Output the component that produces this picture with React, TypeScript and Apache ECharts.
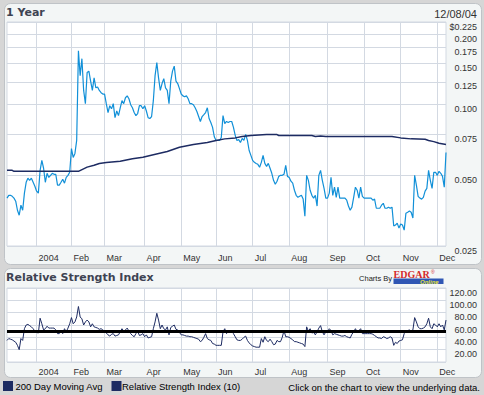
import React, { useEffect, useRef } from "react";
import * as echarts from "echarts";

// Trading calendar 12/08/03 - 12/08/04
const START_DATE = [2003, 11, 8];
const END_DATE = [2004, 11, 8];
const HOLIDAYS = ["2003-12-25", "2004-01-01", "2004-01-19", "2004-02-16", "2004-04-09", "2004-05-31", "2004-06-11", "2004-07-05", "2004-09-06", "2004-11-25"];
const MONTH_LABELS = ["2004", "Feb", "Mar", "Apr", "May", "Jun", "Jul", "Aug", "Sep", "Oct", "Nov", "Dec"];

const PRICE_TICKS = [0.025, 0.05, 0.075, 0.1, 0.125, 0.15, 0.175, 0.2, 0.225];
const RSI_MIN = 0;
const RSI_MAX = 120;
const RSI_STEP = 20;
const RSI_LEVEL = 50;

// daily closing price
const PRICE = [
  0.0400, 0.0411, 0.0411, 0.0407, 0.0400, 0.0388, 0.0355, 0.0338, 0.0373, 0.0355,
  0.0420, 0.0467, 0.0486, 0.0476, 0.0486, 0.0467, 0.0449, 0.0428, 0.0420, 0.0525,
  0.0579, 0.0536, 0.0467, 0.0510, 0.0490, 0.0500, 0.0510, 0.0505, 0.0505, 0.0454,
  0.0454, 0.0467, 0.0481, 0.0463, 0.0490, 0.0500, 0.0515, 0.0650, 0.0596, 0.0620,
  0.0704, 0.1695, 0.133, 0.157, 0.115, 0.101, 0.137, 0.139, 0.126, 0.115,
  0.130, 0.118, 0.119, 0.115, 0.1125, 0.111, 0.111, 0.101, 0.0926, 0.099,
  0.096, 0.101, 0.088, 0.094, 0.0898, 0.097, 0.104, 0.101, 0.107, 0.109,
  0.106, 0.100, 0.097, 0.0926, 0.0898, 0.0917, 0.099, 0.099, 0.096, 0.099,
  0.094, 0.088, 0.0873, 0.089, 0.104, 0.133, 0.151, 0.130, 0.115, 0.123,
  0.129, 0.118, 0.115, 0.101, 0.126, 0.139, 0.146, 0.126, 0.123, 0.117,
  0.111, 0.109, 0.108, 0.109, 0.106, 0.101, 0.101, 0.100, 0.097, 0.0935,
  0.089, 0.0848, 0.089, 0.0907, 0.0926, 0.097, 0.0873, 0.084, 0.080, 0.073,
  0.0704, 0.0704, 0.0704, 0.0725, 0.0898, 0.083, 0.0848, 0.084, 0.0848, 0.0848,
  0.080, 0.074, 0.0704, 0.071, 0.069, 0.0718, 0.0704, 0.0747, 0.0704, 0.0638,
  0.0608, 0.0579, 0.0568, 0.0562, 0.0557, 0.0541, 0.0568, 0.0608, 0.0562, 0.0546,
  0.0562, 0.0536, 0.0510, 0.0476, 0.0458, 0.0472, 0.0495, 0.0500, 0.0500, 0.0505,
  0.0551, 0.0495, 0.0490, 0.0472, 0.0463, 0.0432, 0.0411, 0.0403, 0.0407, 0.0411,
  0.0396, 0.0335, 0.0500, 0.0476, 0.0432, 0.0411, 0.0400, 0.0411, 0.0370, 0.0500,
  0.0525, 0.0476, 0.0440, 0.0400, 0.0400, 0.0420, 0.0490, 0.0411, 0.0445, 0.0403,
  0.0445, 0.0400, 0.0400, 0.0400, 0.0400, 0.0392, 0.0370, 0.0355, 0.0366, 0.0403,
  0.0445, 0.0432, 0.0400, 0.0445, 0.0407, 0.0400, 0.0400, 0.0400, 0.0400, 0.0400,
  0.0392, 0.0396, 0.0362, 0.0362, 0.0362, 0.0373, 0.0380, 0.0362, 0.0362, 0.0366,
  0.0362, 0.0366, 0.0304, 0.0307, 0.0313, 0.0298, 0.0310, 0.0307, 0.0292, 0.0345,
  0.0348, 0.0352, 0.0348, 0.0329, 0.0500, 0.0454, 0.0407, 0.0400, 0.0396, 0.0403,
  0.0428, 0.0440, 0.0525, 0.0476, 0.0440, 0.0515, 0.0515, 0.0500, 0.0520, 0.0510,
  0.0495, 0.0445, 0.0626,
];

// 200 day moving average, [trading day index, value]
const MA_INDEX = [0, 3, 4, 41, 46, 50, 53, 57, 65, 72, 78, 84, 92, 99, 107, 115, 120, 125, 131, 135, 140, 149, 155, 156, 175, 177, 180, 183, 221, 226, 232, 240, 242, 245, 248, 252];
const MA_VALUE = [0.0525, 0.0525, 0.052, 0.052, 0.0542, 0.0552, 0.0562, 0.0567, 0.0574, 0.0588, 0.0597, 0.0612, 0.0632, 0.0659, 0.0676, 0.069, 0.0704, 0.0715, 0.0722, 0.0732, 0.0739, 0.0746, 0.0746, 0.0739, 0.0739, 0.0732, 0.0735, 0.0732, 0.0732, 0.0722, 0.0715, 0.0712, 0.0704, 0.0696, 0.0685, 0.0676];

// Relative Strength Index (10)
const RSI = [
  35, 38, 37, 36, 34, 32, 27, 20, 38, 35,
  54, 60, 61, 59, 57, 54, 50, 48, 47, 71,
  62, 52, 54, 58, 55, 55, 55, 55, 52, 46,
  46, 49, 46, 54, 49, 55, 62, 72, 62, 65,
  73, 90, 73, 70, 60, 65, 68, 65, 57, 62,
  57, 56, 55, 53, 54, 52, 50, 47, 44, 42,
  45, 46, 42, 43, 44, 49, 54, 50, 52, 55,
  50, 46, 43, 41, 46, 50, 43, 44, 46, 41,
  44, 39, 40, 41, 54, 65, 79, 68, 54, 60,
  54, 52, 57, 44, 56, 58, 60, 53, 52, 48,
  44, 44, 43, 42, 42, 41, 41, 40, 39, 38,
  37, 33, 35, 40, 46, 38, 36, 35, 30, 29,
  27, 27, 27, 27, 49, 54, 46, 49, 48, 51,
  46, 41, 36, 35, 35, 37, 40, 42, 35, 31,
  28, 26, 25, 24, 24, 24, 38, 32, 41, 35,
  33, 37, 33, 28, 29, 35, 33, 33, 40, 51,
  41, 41, 40, 38, 36, 33, 33, 32, 31, 30,
  29, 25, 57, 50, 54, 47, 48, 44, 49, 55,
  59, 49, 44, 49, 49, 54, 51, 44, 46, 45,
  44, 43, 42, 42, 43, 41, 40, 39, 45, 49,
  54, 49, 51, 54, 46, 46, 46, 46, 46, 46,
  45, 43, 41, 39, 39, 38, 41, 40, 38, 39,
  41, 39, 27, 32, 30, 34, 35, 36, 46, 50,
  51, 52, 50, 52, 72, 65, 57, 54, 54, 55,
  57, 62, 71, 57, 54, 62, 60, 57, 62, 57,
  60, 52, 68,
];

function buildTradingDays(): string[] {
  const out: string[] = [];
  const d = new Date(Date.UTC(START_DATE[0], START_DATE[1], START_DATE[2]));
  const end = Date.UTC(END_DATE[0], END_DATE[1], END_DATE[2]);
  while (d.getTime() <= end) {
    const wd = d.getUTCDay();
    const s = d.toISOString().slice(0, 10);
    if (wd !== 0 && wd !== 6 && HOLIDAYS.indexOf(s) < 0) out.push(s);
    d.setUTCDate(d.getUTCDate() + 1);
  }
  return out;
}

const GRID_COLOR = "#d3d9e2";
const LABEL_COLOR = "#333333";
const NAVY = "#1d2b62";
const PRICE_BLUE = "#1190d8";
const TITLE_COLOR = "#3e4352";

export default function App() {
  const ref = useRef<HTMLDivElement>(null);

  useEffect(() => {
    if (!ref.current) return;
    const chart = echarts.init(ref.current, undefined, { renderer: "svg" });
    const dates = buildTradingDays();
    const isMonthStart = (i: number) =>
      i > 0 && dates[i] && dates[i - 1] && dates[i].slice(5, 7) !== dates[i - 1].slice(5, 7);
    const monthLabel = (v: string) => MONTH_LABELS[parseInt(v.slice(5, 7), 10) - 1];
    const lnTicks = PRICE_TICKS.map((t) => Math.log(t));
    const lnMin = lnTicks[0];
    const lnMax = lnTicks[lnTicks.length - 1];

    const xAxisBase = (gridIndex: number, margin: number) => ({
      type: "category",
      gridIndex,
      data: dates,
      boundaryGap: false,
      axisLine: { show: false },
      axisTick: { show: false },
      axisLabel: {
        interval: (i: number) => !!isMonthStart(i),
        formatter: (v: string) => monthLabel(v),
        align: "left",
        margin,
        padding: [0, 0, 0, 2],
        fontSize: 9,
        fontFamily: "Liberation Sans",
        color: LABEL_COLOR,
      },
      splitLine: {
        show: true,
        interval: (i: number) => !!isMonthStart(i),
        lineStyle: { color: GRID_COLOR, width: 1 },
      },
    });

    const legendFont = '9.5px "Liberation Sans"';

    chart.setOption({
      animation: false,
      backgroundColor: "#d6d6d6",
      grid: [
        { left: 7, top: 22, width: 439, height: 224, show: true, backgroundColor: "#ffffff", borderColor: GRID_COLOR, borderWidth: 1, containLabel: false, outerBoundsMode: "none" },
        { left: 7, top: 288, width: 439, height: 74, show: true, backgroundColor: "#ffffff", borderColor: GRID_COLOR, borderWidth: 1, containLabel: false, outerBoundsMode: "none" },
      ],
      xAxis: [xAxisBase(0, 7), xAxisBase(1, 5)],
      yAxis: [
        {
          type: "value",
          gridIndex: 0,
          position: "right",
          min: lnMin,
          max: lnMax,
          axisLine: { show: false },
          axisTick: { show: false, customValues: lnTicks },
          axisLabel: {
            customValues: lnTicks,
            formatter: (v: number) => {
              const p = Math.exp(v);
              const s = p.toFixed(3);
              return Math.abs(p - 0.225) < 1e-6 ? "$" + s : s;
            },
            align: "right",
            verticalAlign: "top",
            margin: 31,
            fontSize: 9,
            fontFamily: "Liberation Sans",
            color: LABEL_COLOR,
          },
          splitLine: { show: true, lineStyle: { color: GRID_COLOR, width: 1 } },
        },
        {
          type: "value",
          gridIndex: 1,
          position: "right",
          min: RSI_MIN,
          max: RSI_MAX,
          interval: RSI_STEP,
          axisLine: { show: false },
          axisTick: { show: false },
          axisLabel: {
            showMinLabel: false,
            formatter: (v: number) => v.toFixed(2),
            align: "right",
            verticalAlign: "top",
            margin: 31,
            fontSize: 9,
            fontFamily: "Liberation Sans",
            color: LABEL_COLOR,
          },
          splitLine: { show: true, lineStyle: { color: GRID_COLOR, width: 1 } },
        },
      ],
      series: [
        {
          type: "line",
          xAxisIndex: 0,
          yAxisIndex: 0,
          data: PRICE.map((p) => Math.log(p)),
          symbol: "none",
          lineStyle: { color: PRICE_BLUE, width: 1.2 },
          silent: true,
        },
        {
          type: "line",
          xAxisIndex: 0,
          yAxisIndex: 0,
          data: MA_INDEX.map((i, k) => [i, Math.log(MA_VALUE[k])]),
          symbol: "none",
          lineStyle: { color: NAVY, width: 1.5 },
          silent: true,
        },
        {
          type: "line",
          xAxisIndex: 1,
          yAxisIndex: 1,
          data: RSI,
          symbol: "none",
          lineStyle: { color: NAVY, width: 1 },
          silent: true,
          markLine: {
            silent: true,
            symbol: "none",
            label: { show: false },
            lineStyle: { color: "#000000", width: 3, type: "solid" },
            data: [{ yAxis: RSI_LEVEL }],
          },
        },
      ],
      graphic: [
        { type: "rect", z: -10, shape: { x: 4.5, y: 3.5, width: 477, height: 261, r: 6 }, style: { fill: "#f3f6f6", stroke: "#bfc3c7", lineWidth: 1 } },
        { type: "rect", z: -10, shape: { x: 4.5, y: 268.5, width: 477, height: 109, r: 6 }, style: { fill: "#f3f6f6", stroke: "#bfc3c7", lineWidth: 1 } },
        { type: "text", z: 10, style: { text: "1 Year", x: 6, y: 12.5, font: 'bold 11px "DejaVu Sans"', fill: TITLE_COLOR, textAlign: "left", textVerticalAlign: "middle", align: "left", verticalAlign: "middle" } },
        { type: "text", z: 10, style: { text: "12/08/04", x: 477, y: 14, font: '11px "Liberation Sans"', fill: LABEL_COLOR, textAlign: "right", textVerticalAlign: "middle", align: "right", verticalAlign: "middle" } },
        { type: "text", z: 10, style: { text: "Relative Strength Index", x: 6, y: 277.5, font: 'bold 11px "DejaVu Sans"', fill: TITLE_COLOR, textAlign: "left", textVerticalAlign: "middle", align: "left", verticalAlign: "middle" } },
        { type: "text", z: 10, style: { text: "Charts By", x: 392, y: 278.5, font: '7.5px "Liberation Sans"', fill: "#222", textAlign: "right", textVerticalAlign: "middle", align: "right", verticalAlign: "middle" } },
        { type: "text", z: 10, style: { text: "EDGAR", x: 393.5, y: 274.5, font: 'bold 10px "Liberation Serif"', fill: "#d42a2a", textAlign: "left", textVerticalAlign: "middle", align: "left", verticalAlign: "middle" } },
        { type: "text", z: 10, style: { text: "®", x: 431, y: 271.5, font: '5px "Liberation Sans"', fill: "#d42a2a", textAlign: "left", textVerticalAlign: "middle", align: "left", verticalAlign: "middle" } },
        { type: "rect", z: 10, shape: { x: 393.5, y: 278.5, width: 50, height: 5.5 }, style: { fill: "#2f56b4" } },
        { type: "text", z: 11, style: { text: "Online", x: 420, y: 281.5, font: 'italic bold 6px "Liberation Sans"', fill: "#e6e23a", textAlign: "left", textVerticalAlign: "middle", align: "left", verticalAlign: "middle" } },
        { type: "rect", z: 10, shape: { x: 3, y: 381, width: 10, height: 10 }, style: { fill: NAVY } },
        { type: "text", z: 10, style: { text: "200 Day Moving Avg", x: 15.5, y: 386.5, font: legendFont, fill: "#000", textAlign: "left", textVerticalAlign: "middle", align: "left", verticalAlign: "middle" } },
        { type: "rect", z: 10, shape: { x: 111.5, y: 381, width: 10, height: 10 }, style: { fill: NAVY } },
        { type: "text", z: 10, style: { text: "Relative Strength Index (10)", x: 122, y: 386.5, font: legendFont, fill: "#000", textAlign: "left", textVerticalAlign: "middle", align: "left", verticalAlign: "middle" } },
        { type: "text", z: 10, style: { text: "Click on the chart to view the underlying data.", x: 480, y: 387.5, font: legendFont, fill: "#000", textAlign: "right", textVerticalAlign: "middle", align: "right", verticalAlign: "middle" } },
      ],
    });
    return () => chart.dispose();
  }, []);

  return (
    <div
      ref={ref}
      style={{ position: "fixed", left: 0, top: 0, width: 484, height: 395, background: "#d6d6d6" }}
    />
  );
}
